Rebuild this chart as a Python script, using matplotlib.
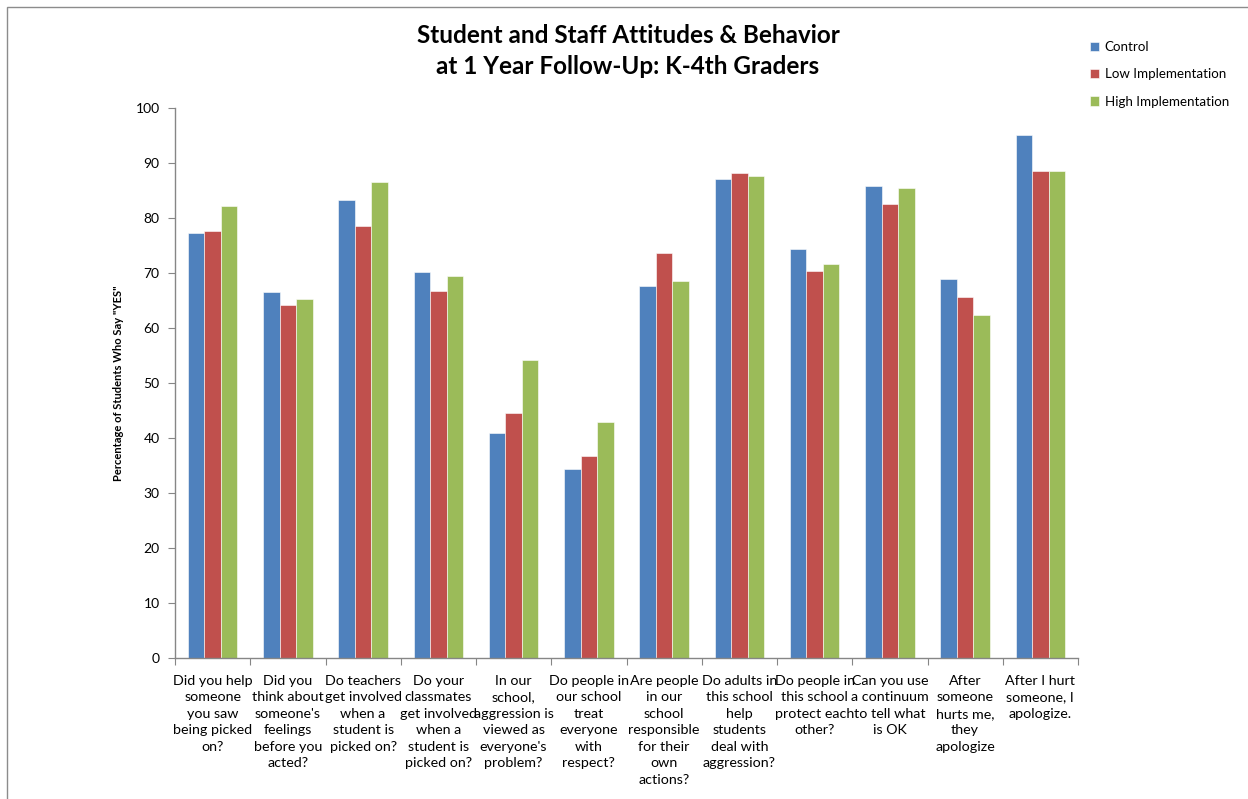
import numpy as np
import matplotlib.pyplot as plt
from matplotlib.patches import Rectangle

plt.rcParams['font.family'] = ['Lato', 'DejaVu Sans']

questions = [
    "Did you help\nsomeone\nyou saw\nbeing picked\non?",
    "Did you\nthink about\nsomeone's\nfeelings\nbefore you\nacted?",
    "Do teachers\nget involved\nwhen a\nstudent is\npicked on?",
    "Do your\nclassmates\nget involved\nwhen a\nstudent is\npicked on?",
    "In our\nschool,\naggression is\nviewed as\neveryone's\nproblem?",
    "Do people in\nour school\ntreat\neveryone\nwith\nrespect?",
    "Are people\nin our\nschool\nresponsible\nfor their\nown\nactions?",
    "Do adults in\nthis school\nhelp\nstudents\ndeal with\naggression?",
    "Do people in\nthis school\nprotect each\nother?",
    "Can you use\na continuum\nto tell what\nis OK",
    "After\nsomeone\nhurts me,\nthey\napologize",
    "After I hurt\nsomeone, I\napologize.",
]
control = [77.3, 66.5, 83.3, 70.2, 41.0, 34.4, 67.6, 87.0, 74.3, 85.9, 68.9, 95.1]
low_impl = [77.6, 64.1, 78.5, 66.7, 44.5, 36.8, 73.7, 88.2, 70.4, 82.5, 65.6, 88.5]
high_impl = [82.2, 65.2, 86.5, 69.5, 54.1, 42.9, 68.5, 87.6, 71.6, 85.4, 62.4, 88.5]

series = [("Control", control, "#4F81BD"),
          ("Low Implementation", low_impl, "#C0504D"),
          ("High Implementation", high_impl, "#9BBB59")]

W, H = 1248, 799
fig = plt.figure(figsize=(W / 100, H / 100), dpi=100)
ax = fig.add_axes([175 / W, 1 - 658 / H, 903 / W, 550 / H])

# outer chart frame (only top and left edges fall inside the image)
fig.patches.append(Rectangle((7 / W, -0.05), 1.2, 1 - 7 / H + 0.05,
                             transform=fig.transFigure, fill=False,
                             edgecolor="#8c8c8c", linewidth=1.0))

x = np.arange(len(questions))
bw = 0.219
for i, (name, vals, col) in enumerate(series):
    ax.bar(x + (i - 1) * bw, vals, bw, color=col, label=name,
           edgecolor="white", linewidth=0.4)

ax.set_xlim(-0.5, len(questions) - 0.5)
ax.set_ylim(0, 100)
ax.set_yticks(np.arange(0, 101, 10))
ax.tick_params(axis="y", length=5, width=0.8, color="#868686",
               labelsize=10, pad=6)

ax.set_xticks(x)
ax.set_xticklabels(questions, fontsize=10.3, linespacing=1.45, va="top")
ax.tick_params(axis="x", length=0, pad=12)
ax.set_xticks(np.arange(-0.5, len(questions)), minor=True)
ax.tick_params(axis="x", which="minor", length=5, width=0.8, color="#868686")

for side in ("top", "right"):
    ax.spines[side].set_visible(False)
for side in ("left", "bottom"):
    ax.spines[side].set_color("#868686")
    ax.spines[side].set_linewidth(1.0)

ax.set_ylabel('Percentage of Students Who Say "YES"', fontsize=8,
              fontweight="bold")
ax.yaxis.set_label_coords(-0.057, 0.5)

fig.text(628 / W, 1 - 51 / H,
         "Student and Staff Attitudes & Behavior\nat 1 Year Follow-Up: K-4th Graders",
         ha="center", va="center", fontsize=17.5, fontweight="bold",
         linespacing=1.45)

fig.legend(loc="upper left", bbox_to_anchor=(1078 / W, 1 - 29 / H),
           frameon=False, fontsize=9.6, handlelength=0.7, handleheight=0.7,
           handletextpad=0.4, labelspacing=1.15)

fig.savefig("out.png", dpi=100)
